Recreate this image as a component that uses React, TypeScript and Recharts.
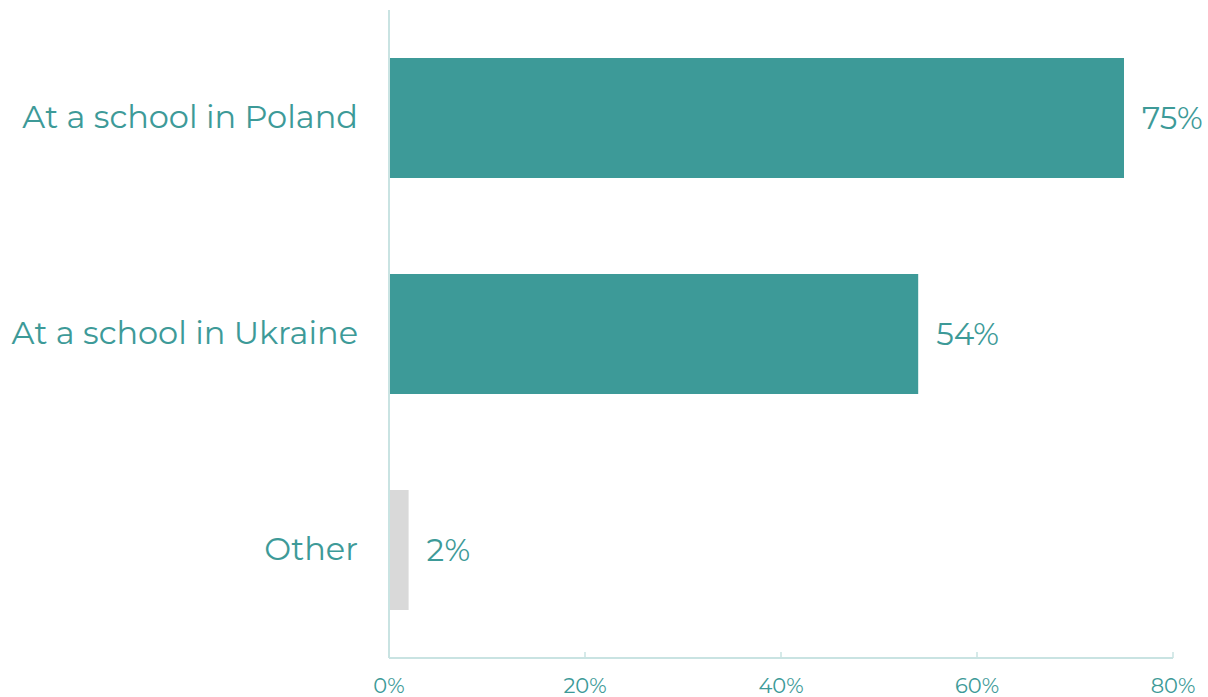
import React from "react";
import { BarChart, Bar, XAxis, YAxis, Cell, LabelList } from "recharts";

const categories = ["At a school in Poland", "At a school in Ukraine", "Other"];
const values = [75, 54, 2];
const barColors = ["#3d9a98", "#3d9a98", "#d9d9d9"];
const xTicks = [0, 20, 40, 60, 80];

const data = categories.map((name, i) => ({ name, value: values[i] }));

const TEAL = "#3d9a98";
const AXIS = "#c9e3e2";
const FONT = "Montserrat, 'Open Sans', sans-serif";

const XTick = (props: any) => {
  const { x, y, payload } = props;
  const axisY = y - 8;
  return (
    <g>
      <line x1={x} x2={x} y1={axisY} y2={axisY - 6} stroke={AXIS} strokeWidth={1.5} />
      <text x={x} y={axisY + 35} textAnchor="middle" fill={TEAL} fontSize={21} fontFamily={FONT}>
        {payload.value}%
      </text>
    </g>
  );
};

const YTick = (props: any) => {
  const { y, payload } = props;
  return (
    <text x={358} y={y} dy={10} textAnchor="end" fill={TEAL} fontSize={32} fontFamily={FONT}>
      {payload.value}
    </text>
  );
};

export default function App() {
  return (
    <div style={{ width: 1208, height: 697 }}>
      <style>{`body{margin:0}`}</style>
      <BarChart
        width={1208}
        height={697}
        data={data}
        layout="vertical"
        margin={{ top: 10, right: 35, bottom: 0, left: 0 }}
        barCategoryGap={48}
      >
        <XAxis
          type="number"
          domain={[0, 80]}
          ticks={xTicks}
          height={39}
          axisLine={{ stroke: AXIS, strokeWidth: 2 }}
          tickLine={false}
          tick={<XTick />}
          interval={0}
        />
        <YAxis
          type="category"
          dataKey="name"
          width={389}
          axisLine={{ stroke: AXIS, strokeWidth: 2 }}
          tickLine={false}
          tick={<YTick />}
        />
        <Bar dataKey="value" barSize={120} isAnimationActive={false}>
          {data.map((d, i) => (
            <Cell key={d.name} fill={barColors[i]} />
          ))}
          <LabelList
            dataKey="value"
            position="right"
            offset={18}
            formatter={(v: any) => `${v}%`}
            fill={TEAL}
            fontSize={31}
            fontFamily={FONT}
          />
        </Bar>
      </BarChart>
    </div>
  );
}
